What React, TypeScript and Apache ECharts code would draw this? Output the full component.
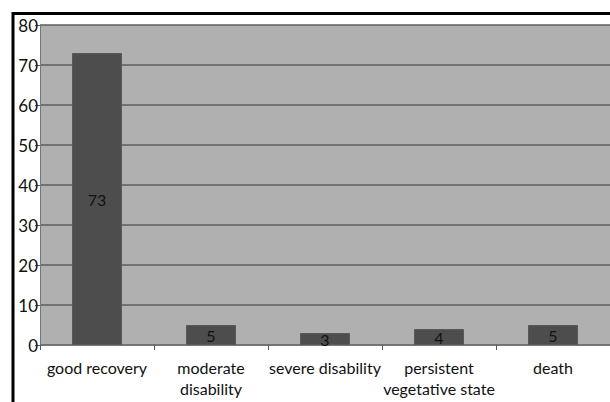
import React, { useEffect, useRef } from "react";
import * as echarts from "echarts";

const categories = [
  "good recovery",
  "moderate\ndisability",
  "severe disability",
  "persistent\nvegetative state",
  "death",
];
const values = [73, 5, 3, 4, 5];
const yTicks = { min: 0, max: 80, interval: 10 };

export default function App() {
  const ref = useRef<HTMLDivElement>(null);
  useEffect(() => {
    if (!ref.current) return;
    const chart = echarts.init(ref.current, null, { renderer: "svg" });
    const font = "Lato";
    chart.setOption({
      animation: false,
      backgroundColor: "#ffffff",
      graphic: [
        {
          type: "rect",
          shape: { x: 13, y: 13.5, width: 700, height: 500 },
          style: { fill: "none", stroke: "#000000", lineWidth: 3 },
          z: 100,
        },
      ],
      grid: {
        left: 40,
        top: 25,
        right: 0,
        bottom: 57,
        show: true,
        backgroundColor: "#b0b0b0",
        borderWidth: 0,
      },
      xAxis: {
        type: "category",
        data: categories,
        axisLine: { show: true, lineStyle: { color: "#777777", width: 1 } },
        axisTick: {
          show: true,
          alignWithLabel: false,
          length: 5,
          lineStyle: { color: "#555555" },
        },
        axisLabel: {
          color: "#111111",
          fontFamily: font,
          fontSize: 16,
          margin: 12,
          lineHeight: 21,
          interval: 0,
        },
      },
      yAxis: {
        type: "value",
        min: yTicks.min,
        max: yTicks.max,
        interval: yTicks.interval,
        axisLine: { show: true, lineStyle: { color: "#777777", width: 1 } },
        axisTick: { show: true, length: 5, lineStyle: { color: "#555555" } },
        axisLabel: {
          color: "#111111",
          fontFamily: font,
          fontSize: 17,
          margin: 2,
        },
        splitLine: { show: true, lineStyle: { color: "#5e5e5e", width: 1.5 } },
      },
      series: [
        {
          type: "bar",
          data: values,
          barWidth: 50,
          itemStyle: { color: "#4d4d4d", borderColor: "#5a5a5a", borderWidth: 1 },
          label: {
            show: true,
            position: "inside",
            color: "#111111",
            fontFamily: font,
            fontSize: 16,
          },
        },
      ],
    });
    return () => chart.dispose();
  }, []);
  return (
    <div
      ref={ref}
      style={{ position: "absolute", left: 0, top: 0, width: 610, height: 402 }}
    />
  );
}
